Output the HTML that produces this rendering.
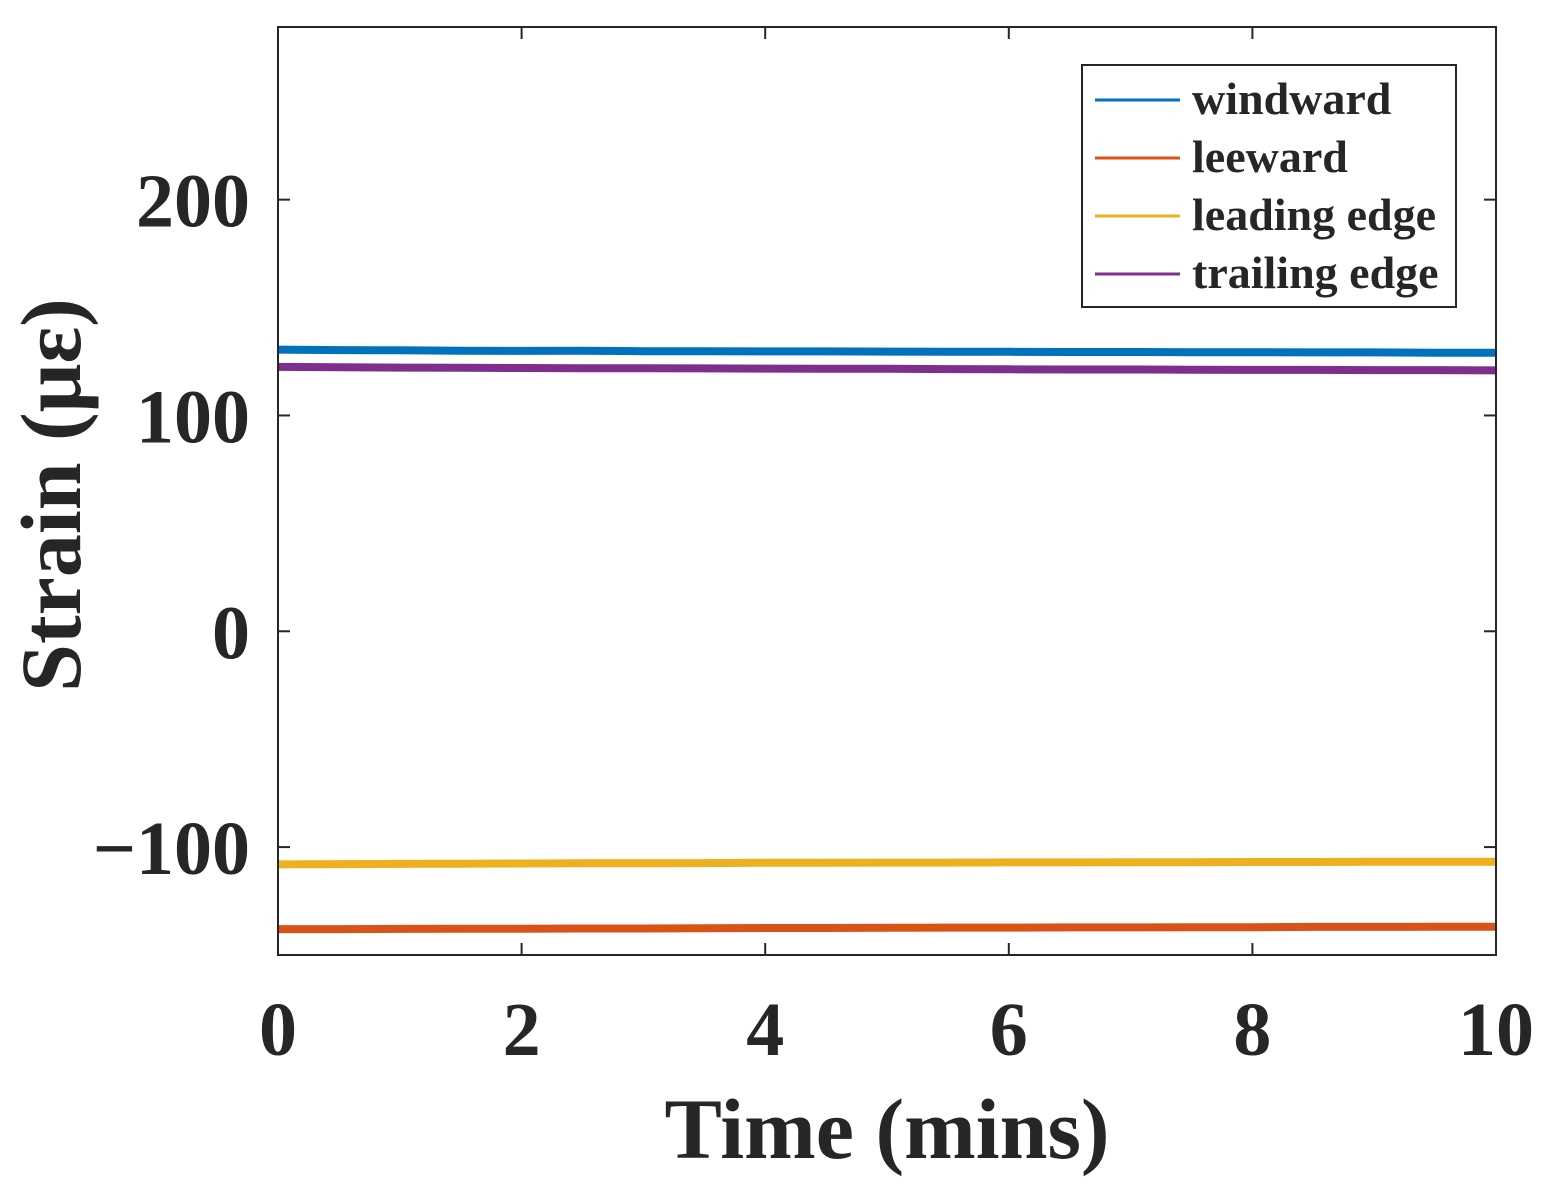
<!DOCTYPE html>
<html><head><meta charset="utf-8"><style>
html,body{margin:0;padding:0;background:#fff;}
svg text{font-family:"Liberation Serif",serif;font-weight:bold;fill:#262626;}
</style></head><body>
<svg id="chart" width="1553" height="1197" viewBox="0 0 1553 1197" xmlns="http://www.w3.org/2000/svg">
<rect x="0" y="0" width="1553" height="1197" fill="#fff"/>
<g id="series"></g>
<rect x="278" y="27" width="1218" height="928" fill="none" stroke="#262626" stroke-width="2"/>
<g id="axes"></g>
<text x="0" y="0" font-size="86" text-anchor="middle" transform="translate(80,495) rotate(-90)">Strain (με)</text>
<text x="887" y="1158" font-size="86" text-anchor="middle">Time (mins)</text>
<g>
<rect x="1082" y="65" width="374" height="242" fill="#fff" stroke="#262626" stroke-width="2"/>
<g id="legend-entries"></g>
</g>
</svg>
<script>
const xTicks=[0,2,4,6,8,10];
const yTicks=[-100,0,100,200];
const yTickLabels=["\u2212100","0","100","200"];
const seriesNames=["windward","leeward","leading edge","trailing edge"];
const seriesColors=["#0072BD","#D95319","#EDB120","#7E2F8E"];
const times=[0,0.5,1,1.5,2,2.5,3,3.5,4,4.5,5,5.5,6,6.5,7,7.5,8,8.5,9,9.5,10];
const windward=[130.5,130.3,130.2,130,129.9,130,129.8,129.8,129.7,129.7,129.6,129.5,129.5,129.4,129.4,129.3,129.3,129.2,129.2,129.1,129.1];
const leeward=[-138,-138,-137.9,-137.8,-137.8,-137.7,-137.7,-137.6,-137.5,-137.5,-137.4,-137.3,-137.3,-137.2,-137.2,-137.1,-137.1,-137,-137,-136.9,-136.9];
const leadingEdge=[-108,-107.9,-107.8,-107.7,-107.6,-107.5,-107.5,-107.4,-107.3,-107.3,-107.2,-107.2,-107.1,-107.1,-107,-107,-106.9,-106.9,-106.8,-106.8,-106.8];
const trailingEdge=[122.5,122.3,122.2,122.1,122,121.9,121.9,121.8,121.7,121.6,121.6,121.5,121.4,121.3,121.3,121.2,121.1,121.1,121,121,120.9];
const allSeries=[windward,leeward,leadingEdge,trailingEdge];
const NS="http://www.w3.org/2000/svg";
const X0=278,X1=1496,Y0=955,Y1=27,XMIN=0,XMAX=10,YMIN=-150,YMAX=280;
const xs=v=>X0+(v-XMIN)/(XMAX-XMIN)*(X1-X0);
const ys=v=>Y0-(v-YMIN)/(YMAX-YMIN)*(Y0-Y1);
function mk(t,a){const e=document.createElementNS(NS,t);for(const k in a)e.setAttribute(k,a[k]);return e;}
const axes=document.getElementById('axes');
xTicks.forEach(t=>{
 const x=xs(t);
 const l1=mk('line',{x1:x,x2:x,y1:Y0,y2:Y0-12,stroke:'#262626','stroke-width':2});
 
 
 axes.appendChild(l1);
 const l2=mk('line',{x1:x,x2:x,y1:Y1,y2:Y1+12,stroke:'#262626','stroke-width':2});
 
 
 axes.appendChild(l2);
 const tx=mk('text',{x:x,y:1055,'font-size':76,'text-anchor':'middle'});
 
 
 tx.textContent=String(t);axes.appendChild(tx);
});
yTicks.forEach((t,i)=>{
 const y=ys(t);
 const l1=mk('line',{x1:X0,x2:X0+12,y1:y,y2:y,stroke:'#262626','stroke-width':2});
 
 
 axes.appendChild(l1);
 const l2=mk('line',{x1:X1,x2:X1-12,y1:y,y2:y,stroke:'#262626','stroke-width':2});
 
 
 axes.appendChild(l2);
 const tx=mk('text',{x:250,y:y+27,'font-size':76,'text-anchor':'end'});
 
 
 tx.textContent=yTickLabels[i];axes.appendChild(tx);
});
const sg=document.getElementById('series');
allSeries.forEach((s,i)=>{
 const d=s.map((v,j)=>(j?'L':'M')+xs(times[j]).toFixed(1)+','+ys(v).toFixed(1)).join(' ');
 const p=mk('path',{d:d,fill:'none',stroke:seriesColors[i],'stroke-width':8});
 
 
 sg.appendChild(p);
});
const lg=document.getElementById('legend-entries');
seriesNames.forEach((n,i)=>{
 const y=100+i*58;
 const l=mk('line',{x1:1095,x2:1180,y1:y,y2:y,stroke:seriesColors[i],'stroke-width':3});
 
 
 lg.appendChild(l);
 const t=mk('text',{x:1192,y:y+14,'font-size':46});
 
 
 t.textContent=n;lg.appendChild(t);
});
</script>
</body></html>
